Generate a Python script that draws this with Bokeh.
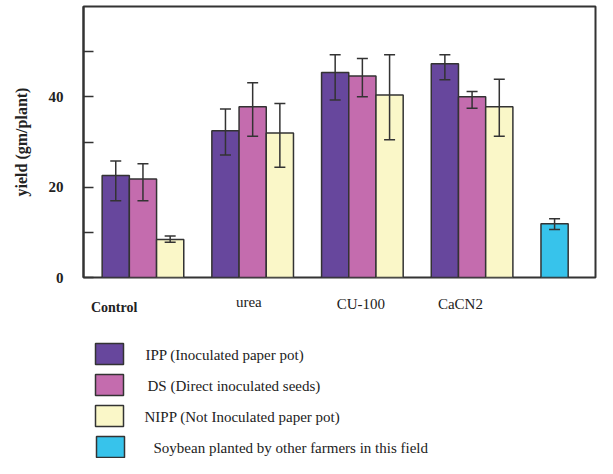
from bokeh.plotting import figure
from bokeh.models import ColumnDataSource, Whisker, FixedTicker, Range1d, TeeHead
from bokeh.layouts import column
from bokeh.core.properties import value
from bokeh.embed import file_html
from bokeh.resources import INLINE

# ---------------- data ----------------
groups = ["Control", "urea", "CU-100", "CaCN2"]
series_names = ["IPP (Inoculated paper pot)", "DS (Direct inoculated seeds)",
                "NIPP (Not Inoculated paper pot)"]
ipp = [22.6, 32.5, 45.4, 47.3]
ipp_lo = [17.0, 27.1, 39.3, 43.8]
ipp_hi = [25.8, 37.3, 49.3, 49.3]
ds = [21.8, 37.8, 44.6, 40.0]
ds_lo = [17.0, 31.3, 40.0, 37.5]
ds_hi = [25.2, 43.1, 48.5, 41.2]
nipp = [8.4, 32.0, 40.4, 37.8]
nipp_lo = [7.8, 24.4, 30.5, 31.3]
nipp_hi = [9.2, 38.5, 49.3, 43.9]
soy_name = "Soybean planted by other farmers in this field"
soy = [11.9]
soy_lo = [10.6]
soy_hi = [13.0]
y_ticks = [0, 10, 20, 30, 40, 50]
y_tick_labels = {0: "0", 10: "", 20: "20", 30: "", 40: "40", 50: ""}

# ---------------- style / layout ----------------
colors = ["#67479D", "#C46CAE", "#FAF7C8"]
soy_color = "#37C3EB"
edge = "#333333"
txt = "#222222"
bar_w = 0.248
offsets = [-bar_w, 0.0, bar_w]
serif = "Liberation Serif"
W = 597
H1 = 291
H2 = 167
LEFT = 83
RIGHT = 2

p = figure(width=W, height=H1, output_backend="svg", toolbar_location=None,
           x_range=Range1d(-0.542, 4.125), y_range=Range1d(0, 60.0),
           min_border_left=LEFT, min_border_right=RIGHT, min_border_top=6,
           min_border_bottom=14)
p.grid.visible = False
p.xaxis.visible = False
p.outline_line_color = edge
p.outline_line_width = 2


def add_whisker(fig, src):
    fig.add_layout(Whisker(source=src, base="x", upper="hi", lower="lo",
                           line_color=edge, line_width=1.5, level="overlay",
                           upper_head=TeeHead(size=11, line_color=edge, line_width=1.5),
                           lower_head=TeeHead(size=11, line_color=edge, line_width=1.5)))


all_series = [(ipp, ipp_lo, ipp_hi), (ds, ds_lo, ds_hi), (nipp, nipp_lo, nipp_hi)]
for j, (vals, lo, hi) in enumerate(all_series):
    xs = [i + offsets[j] for i in range(len(groups))]
    src = ColumnDataSource(dict(x=xs, top=vals, lo=lo, hi=hi))
    p.vbar(x="x", top="top", bottom=0, width=bar_w, source=src,
           fill_color=colors[j], line_color=edge, line_width=1.5)
    add_whisker(p, src)

soy_src = ColumnDataSource(dict(x=[len(groups) + offsets[0]], top=soy, lo=soy_lo, hi=soy_hi))
p.vbar(x="x", top="top", bottom=0, width=bar_w, source=soy_src,
       fill_color=soy_color, line_color=edge, line_width=1.5)
add_whisker(p, soy_src)

# y axis
yax = p.yaxis[0]
yax.ticker = FixedTicker(ticks=y_ticks)
yax.major_label_overrides = y_tick_labels
yax.minor_tick_line_color = None
yax.major_tick_in = 10
yax.major_tick_out = 0
yax.major_tick_line_color = edge
yax.major_tick_line_width = 1.5
yax.axis_line_color = edge
yax.axis_line_width = 2
yax.major_label_standoff = 20
yax.major_label_text_font = serif
yax.major_label_text_font_style = "bold"
yax.major_label_text_font_size = "15px"
yax.major_label_text_color = txt
yax.axis_label = "yield (gm/plant)"
yax.axis_label_text_font = serif
yax.axis_label_text_font_style = "bold"
yax.axis_label_text_font_size = "16px"
yax.axis_label_text_color = txt
yax.axis_label_standoff = 16

# ---------------- lower panel: category labels + legend ----------------
q = figure(width=W, height=H2, output_backend="svg", toolbar_location=None,
           x_range=p.x_range, y_range=Range1d(H1 + H2, H1),
           min_border_left=LEFT, min_border_right=RIGHT, min_border_top=0,
           min_border_bottom=0)
q.extra_x_ranges = {"px": Range1d(LEFT, W - RIGHT)}
q.axis.visible = False
q.grid.visible = False
q.outline_line_color = None

label_dx = [-0.263, -0.035, -0.013, -0.106]
label_y = [307, 301, 303, 303]
for i, g in enumerate(groups):
    q.text(x=[i + label_dx[i]], y=[label_y[i]], text=[g],
           text_align="center", text_baseline="middle",
           text_font=value(serif), text_font_size="14px" if i == 0 else "15px",
           text_font_style="bold" if i == 0 else "normal", text_color=txt)

leg_names = series_names + [soy_name]
leg_colors = colors + [soy_color]
sw_top = [343, 374, 405, 436]
sw_left = [95, 95, 95, 96]
text_x = [145, 147, 144, 153]
leg_src = ColumnDataSource(dict(
    left=sw_left, right=[v + 28 for v in sw_left],
    top=sw_top, bottom=[t + 21 for t in sw_top],
    color=leg_colors, name=leg_names, tx=text_x,
    ty=[t + 11 for t in sw_top]))
q.quad(left="left", right="right", top="top", bottom="bottom", source=leg_src,
       fill_color="color", line_color=edge, line_width=1.5, x_range_name="px")
q.text(x="tx", y="ty", text="name", source=leg_src, x_range_name="px",
       text_align="left", text_baseline="middle", text_font=value(serif),
       text_font_size="15px", text_color=txt)

layout = column(p, q, spacing=0)
open("out.html", "w").write(file_html(layout, INLINE))
